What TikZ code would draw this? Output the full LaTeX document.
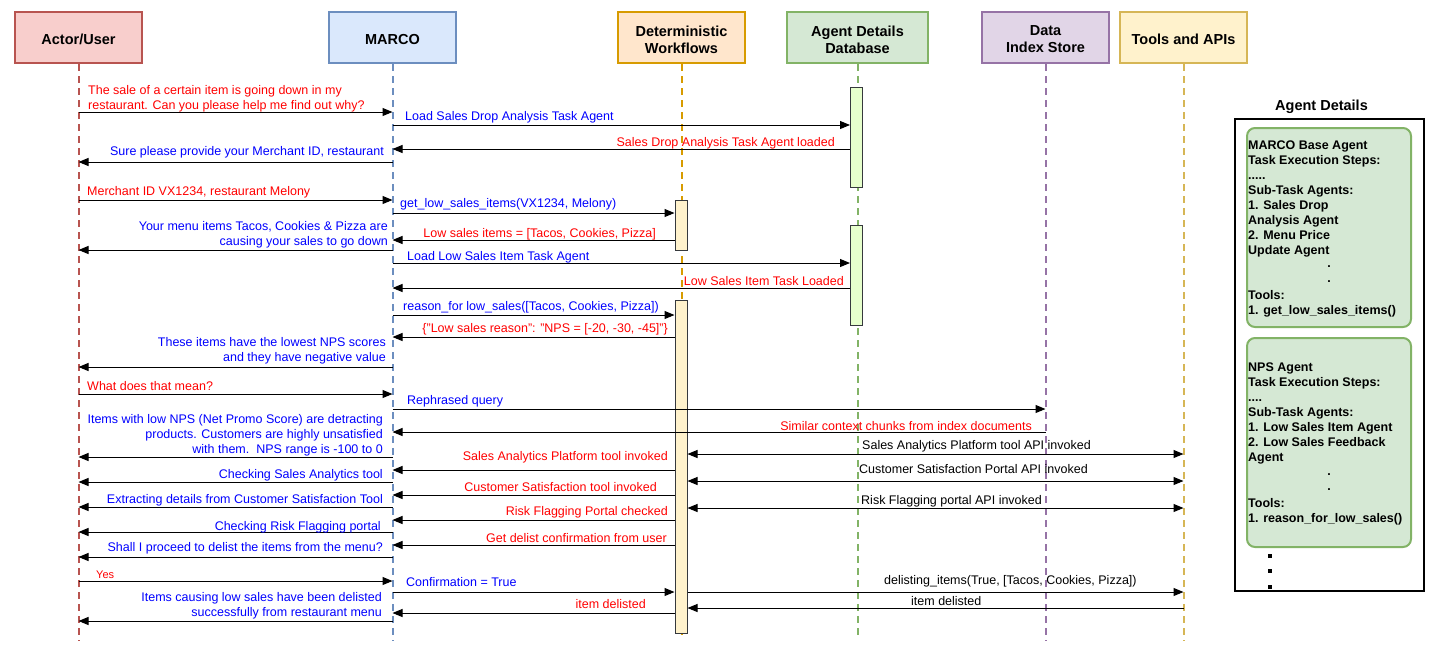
\documentclass[tikz,border=0pt]{standalone}
\usepackage{fontspec}
\setmainfont{Liberation Sans}
\usetikzlibrary{arrows.meta}
\definecolor{actF}{HTML}{F8CECC}\definecolor{actS}{HTML}{B85450}
\definecolor{marF}{HTML}{DAE8FC}\definecolor{marS}{HTML}{6C8EBF}
\definecolor{dwF}{HTML}{FFE6CC}\definecolor{dwS}{HTML}{D79B00}
\definecolor{dbF}{HTML}{D5E8D4}\definecolor{dbS}{HTML}{82B366}
\definecolor{diF}{HTML}{E1D5E7}\definecolor{diS}{HTML}{9673A6}
\definecolor{toF}{HTML}{FFF2CC}\definecolor{toS}{HTML}{D6B656}
\definecolor{barS}{HTML}{36393D}\definecolor{dbBar}{HTML}{E6FFCC}\definecolor{dwBar}{HTML}{FFF2CC}
\definecolor{mred}{HTML}{FF0000}\definecolor{mblue}{HTML}{0000FF}
\begin{document}
\begin{tikzpicture}[x=1pt,y=-1pt,
  hdr/.style={draw, line width=2pt, minimum width=127pt, minimum height=51pt, inner sep=0pt},
  hdrtxt/.style={align=center, font=\fontsize{14.5}{17}\selectfont\bfseries, inner sep=0pt},
  life/.style={line width=2pt, dash pattern=on 7pt off 5pt},
  actbar/.style={draw=barS, line width=1pt, minimum width=12pt, anchor=north, inner sep=0pt},
  msg/.style={draw, line width=1pt, -{Triangle[length=10pt,width=8pt]}},
  bmsg/.style={draw, line width=1pt, {Triangle[length=10pt,width=8pt]}-{Triangle[length=10pt,width=8pt]}},
  lbl/.style={font=\fontsize{12.5}{15}\selectfont, inner sep=0pt},
  lw/.style={lbl, anchor=base west, align=left},
  le/.style={lbl, anchor=base east, align=right},
  agbox/.style={draw=dbS, fill=dbF, line width=2pt, rounded corners=8pt, minimum width=164pt, anchor=north west, inner sep=0pt},
  agt/.style={font=\fontsize{12.5}{15}\selectfont\bfseries, anchor=base west, inner sep=0pt}
]
\useasboundingbox (0,0) rectangle (1431,654);
\fill[white] (0,0) rectangle (1431,654);

% headers
\node[hdr, draw=actS, fill=actF] (actor) at (78.5,37.5) {};
\node[hdr, draw=marS, fill=marF] (marco) at (392.5,37.5) {};
\node[hdr, draw=dwS, fill=dwF] (dw) at (681.5,37.5) {};
\node[hdr, draw=dbS, fill=dbF, minimum width=141pt] (db) at (857.5,37.5) {};
\node[hdr, draw=diS, fill=diF] (dis) at (1045.5,37.5) {};
\node[hdr, draw=toS, fill=toF] (tools) at (1183.5,37.5) {};
\node[hdrtxt] (actor-t) at ([yshift=-2pt]actor.center) {Actor/User};
\node[hdrtxt] (marco-t) at ([yshift=-2pt]marco.center) {MARCO};
\node[hdrtxt] (dw-t) at ([yshift=-2pt]dw.center) {Deterministic\\Workflows};
\node[hdrtxt] (db-t) at ([yshift=-2pt]db.center) {Agent Details\\Database};
\node[hdrtxt] (dis-t) at ([yshift=-2pt]dis.center) {Data\\Index Store};
\node[hdrtxt] (tools-t) at ([yshift=-2pt]tools.center) {Tools and APIs};

% lifelines
\draw[life, draw=actS] (actor.south) -- ++(0,577);
\draw[life, draw=marS] (marco.south) -- ++(0,577);
\draw[life, draw=dwS] (dw.south) -- ++(0,574);
\draw[life, draw=dbS] (db.south) -- ++(0,574);
\draw[life, draw=diS] (dis.south) -- ++(0,577);
\draw[life, draw=toS] (tools.south) -- ++(0,577);

% activation bars
\node[actbar, fill=dbBar, minimum height=100pt] (db1) at (856.5,87) {};
\node[actbar, fill=dbBar, minimum height=100pt] (db2) at (856.5,225) {};
\node[actbar, fill=dwBar, minimum height=50pt] (dw1) at (681,200) {};
\node[actbar, fill=dwBar, minimum height=333pt] (dw2) at (681,300) {};

% messages
\draw[msg] (actor.south |- 0,112) -- (marco.south |- 0,112);
\node[lw, mred] (l1) at (88,109) {The sale of a certain item is going down in my\\restaurant. Can you please help me find out why?};
\draw[msg] (marco.south |- 0,125) -- (db1.west |- 0,125);
\node[lw, mblue] (l2) at (405,120) {Load Sales Drop Analysis Task Agent};
\draw[msg] (db1.west |- 0,149) -- (marco.south |- 0,149);
\node[le, mred] (l3) at (835,146) {Sales Drop Analysis Task Agent loaded};
\draw[msg] (marco.south |- 0,162) -- (actor.south |- 0,162);
\node[le, mblue] (l4) at (384,155) {Sure please provide your Merchant ID, restaurant};
\draw[msg] (actor.south |- 0,200) -- (marco.south |- 0,200);
\node[lw, mred] (l5) at (87,195) {Merchant ID VX1234, restaurant Melony};
\draw[msg] (marco.south |- 0,213) -- (dw1.west |- 0,213);
\node[lw, mblue] (l6) at (400,207) {get\_low\_sales\_items(VX1234, Melony)};
\draw[msg] (dw1.west |- 0,240) -- (marco.south |- 0,240);
\node[le, mred] (l7) at (656,237) {Low sales items = [Tacos, Cookies, Pizza]};
\draw[msg] (marco.south |- 0,250) -- (actor.south |- 0,250);
\node[le, mblue] (l8) at (388,245) {Your menu items Tacos, Cookies \& Pizza are\\causing your sales to go down};
\draw[msg] (marco.south |- 0,263) -- (db2.west |- 0,263);
\node[lw, mblue] (l9) at (407,260) {Load Low Sales Item Task Agent};
\draw[msg] (db2.west |- 0,288) -- (marco.south |- 0,288);
\node[le, mred] (l10) at (844,285) {Low Sales Item Task Loaded};
\draw[msg] (marco.south |- 0,315) -- (dw2.west |- 0,315);
\node[lw, mblue] (l11) at (403,310) {reason\_for low\_sales([Tacos, Cookies, Pizza])};
\draw[msg] (dw2.west |- 0,337) -- (marco.south |- 0,337);
\node[le, mred] (l12) at (668,332) {\{"Low sales reason": "NPS = [-20, -30, -45]"\}};
\draw[msg] (marco.south |- 0,367) -- (actor.south |- 0,367);
\node[le, mblue] (l13) at (386,361) {These items have the lowest NPS scores\\and they have negative value};
\draw[msg] (actor.south |- 0,394) -- (marco.south |- 0,394);
\node[lw, mred] (l14) at (87,390) {What does that mean?};
\draw[msg] (marco.south |- 0,409) -- (dis.south |- 0,409);
\node[lw, mblue] (l15) at (407,404) {Rephrased query};
\draw[msg] (dis.south |- 0,432) -- (marco.south |- 0,432);
\node[le, mred] (l16) at (1032,430) {Similar context chunks from index documents};
\draw[msg] (marco.south |- 0,457) -- (actor.south |- 0,457);
\node[le, mblue] (l17) at (383,453) {Items with low NPS (Net Promo Score) are detracting\\products. Customers are highly unsatisfied\\with them.\ \ NPS range is -100 to 0};
\draw[bmsg] (dw2.east |- 0,454) -- (tools.south |- 0,454);
\node[lw] (l18) at (862,449) {Sales Analytics Platform tool API invoked};
\draw[msg] (dw2.west |- 0,470) -- (marco.south |- 0,470);
\node[le, mred] (l19) at (668,460) {Sales Analytics Platform tool invoked};
\draw[msg] (marco.south |- 0,482) -- (actor.south |- 0,482);
\node[le, mblue] (l20) at (383,478) {Checking Sales Analytics tool};
\draw[bmsg] (dw2.east |- 0,481) -- (tools.south |- 0,481);
\node[lw] (l21) at (859,473) {Customer Satisfaction Portal API invoked};
\draw[msg] (dw2.west |- 0,495) -- (marco.south |- 0,495);
\node[le, mred] (l22) at (657,491) {Customer Satisfaction tool invoked};
\draw[msg] (marco.south |- 0,507) -- (actor.south |- 0,507);
\node[le, mblue] (l23) at (383,503) {Extracting details from Customer Satisfaction Tool};
\draw[bmsg] (dw2.east |- 0,508) -- (tools.south |- 0,508);
\node[lw] (l24) at (861,504) {Risk Flagging portal API invoked};
\draw[msg] (dw2.west |- 0,520) -- (marco.south |- 0,520);
\node[le, mred] (l25) at (668,515) {Risk Flagging Portal checked};
\draw[msg] (marco.south |- 0,532) -- (actor.south |- 0,532);
\node[le, mblue] (l26) at (381,530) {Checking Risk Flagging portal};
\draw[msg] (dw2.west |- 0,545) -- (marco.south |- 0,545);
\node[le, mred] (l27) at (667,542) {Get delist confirmation from user};
\draw[msg] (marco.south |- 0,557) -- (actor.south |- 0,557);
\node[le, mblue] (l28) at (383,551) {Shall I proceed to delist the items from the menu?};
\draw[msg] (actor.south |- 0,581) -- (marco.south |- 0,581);
\node[lw, mred, font=\fontsize{11}{13}\selectfont] (l29) at (96,578) {Yes};
\draw[msg] (marco.south |- 0,592) -- (dw2.west |- 0,592);
\node[lw, mblue] (l30) at (406,586) {Confirmation = True};
\draw[msg] (dw2.east |- 0,592) -- (tools.south |- 0,592);
\node[lw] (l31) at (884,584) {delisting\_items(True, [Tacos, Cookies, Pizza])};
\draw[msg] (tools.south |- 0,608) -- (dw2.east |- 0,608);
\node[lw] (l32) at (911,605) {item delisted};
\draw[msg] (dw2.west |- 0,613) -- (marco.south |- 0,613);
\node[le, mred] (l33) at (646,608) {item delisted};
\draw[msg] (marco.south |- 0,621) -- (actor.south |- 0,621);
\node[le, mblue] (l34) at (382,616) {Items causing low sales have been delisted\\successfully from restaurant menu};

% agent details panel
\node[font=\fontsize{14.5}{17}\selectfont\bfseries, inner sep=0pt] (adtitle) at (1321.5,107) {Agent Details};
\node[draw, line width=1.5pt, minimum width=189pt, minimum height=472pt, anchor=north west, inner sep=0pt] (adbox) at (1234,118) {};
\node[agbox, minimum height=199pt] (ag1) at (1246,127) {};
\node[agbox, minimum height=209pt] (ag2) at (1246,337) {};
\node[agt] (a1t1) at (1248,149) {MARCO Base Agent};
\node[agt] (a1t2) at (1248,164) {Task Execution Steps:};
\node[agt] (a1t3) at (1248,179) {.....};
\node[agt] (a1t4) at (1248,194) {Sub-Task Agents:};
\node[agt] (a1t5) at (1248,209) {1. Sales Drop};
\node[agt] (a1t6) at (1248,224) {Analysis Agent};
\node[agt] (a1t7) at (1248,239) {2. Menu Price};
\node[agt] (a1t8) at (1248,254) {Update Agent};
\node[agt, anchor=base] (a1d1) at (ag1.center |- 0,267) {.};
\node[agt, anchor=base] (a1d2) at (ag1.center |- 0,282) {.};
\node[agt] (a1t9) at (1248,299) {Tools:};
\node[agt] (a1t10) at (1248,314) {1. get\_low\_sales\_items()};
\node[agt] (a2t1) at (1248,371) {NPS Agent};
\node[agt] (a2t2) at (1248,386) {Task Execution Steps:};
\node[agt] (a2t3) at (1248,401) {....};
\node[agt] (a2t4) at (1248,416) {Sub-Task Agents:};
\node[agt] (a2t5) at (1248,431) {1. Low Sales Item Agent};
\node[agt] (a2t6) at (1248,446) {2. Low Sales Feedback};
\node[agt] (a2t7) at (1248,461) {Agent};
\node[agt, anchor=base] (a2d1) at (ag2.center |- 0,475) {.};
\node[agt, anchor=base] (a2d2) at (ag2.center |- 0,490) {.};
\node[agt] (a2t8) at (1248,507) {Tools:};
\node[agt] (a2t9) at (1248,522) {1. reason\_for\_low\_sales()};
\foreach \yy [count=\i] in {556,571,587}
  \node[fill, minimum size=4pt, inner sep=0pt] (dot\i) at (1270,\yy) {};
\end{tikzpicture}
\end{document}
